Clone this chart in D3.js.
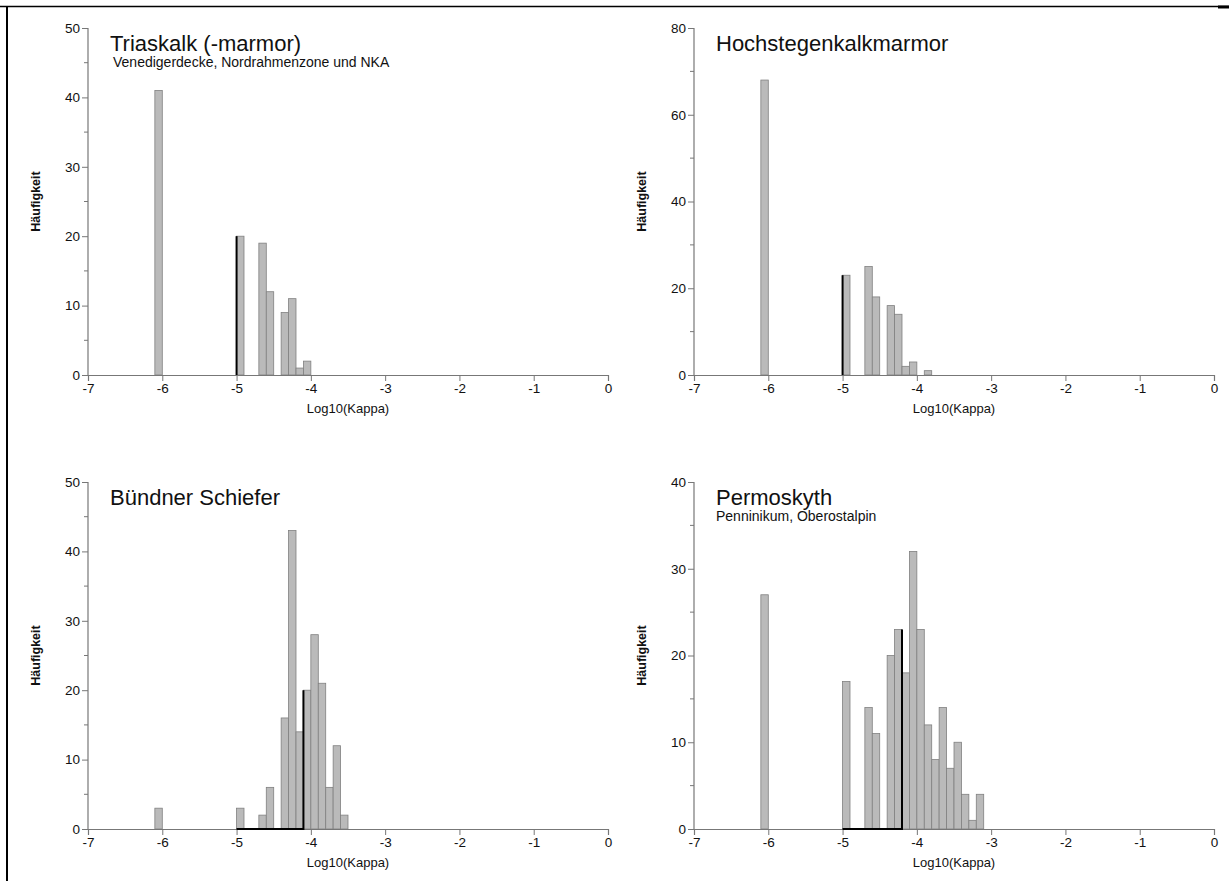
<!DOCTYPE html>
<html><head><meta charset="utf-8">
<script src="https://cdn.jsdelivr.net/npm/d3@7"></script>
<style>
body{margin:0;background:#fff;}
text{font-family:"Liberation Sans",Arial,sans-serif;fill:#111;}
</style></head>
<body><svg id="c" width="1229" height="881"></svg>
<script>
// ---- data ----
const binWidth = 0.1;
const xTicks = [-7,-6,-5,-4,-3,-2,-1,0];

const titles = ["Triaskalk (-marmor)", "Hochstegenkalkmarmor", "Bündner Schiefer", "Permoskyth"];
const subtitles = ["Venedigerdecke, Nordrahmenzone und NKA", "", "", "Penninikum, Oberostalpin"];
const yMax = [50, 80, 50, 40];
const yMajor = [10, 20, 10, 10];

const binStart1 = [-6.1, -5.0, -4.7, -4.6, -4.4, -4.3, -4.2, -4.1];
const counts1   = [41, 20, 19, 12, 9, 11, 1, 2];
const binStart2 = [-6.1, -5.0, -4.7, -4.6, -4.4, -4.3, -4.2, -4.1, -3.9];
const counts2   = [68, 23, 25, 18, 16, 14, 2, 3, 1];
const binStart3 = [-6.1, -5.0, -4.7, -4.6, -4.4, -4.3, -4.2, -4.1, -4.0, -3.9, -3.8, -3.7, -3.6];
const counts3   = [3, 3, 2, 6, 16, 43, 14, 20, 28, 21, 6, 12, 2];
const binStart4 = [-6.1, -5.0, -4.7, -4.6, -4.4, -4.3, -4.2, -4.1, -4.0, -3.9, -3.8, -3.7, -3.6, -3.5, -3.4, -3.3, -3.2];
const counts4   = [27, 17, 14, 11, 20, 23, 18, 32, 23, 12, 8, 14, 7, 10, 4, 1, 4];

// black marker line: from markerFrom to markerTo along baseline, then up to markerH
const markerFrom = [-5.0, -5.0, -5.0, -5.0];
const markerTo   = [-5.0, -5.0, -4.1, -4.2];
const markerH    = [20, 23, 20, 23];

const binStarts = [binStart1, binStart2, binStart3, binStart4];
const countsAll = [counts1, counts2, counts3, counts4];

// ---- layout ----
const svg = d3.select("#c");
const W = 520, H = 347;
const origins = [[88, 375], [694, 375], [88, 829], [694, 829]];
const fmt = d => String(d);

// frame lines
svg.append("line").attr("x1",0).attr("x2",1229).attr("y1",6.5).attr("y2",6.5).attr("stroke","#000").attr("stroke-width",1.5);
svg.append("line").attr("x1",7).attr("x2",7).attr("y1",6).attr("y2",881).attr("stroke","#000").attr("stroke-width",2);
svg.append("line").attr("x1",1218).attr("x2",1229).attr("y1",7).attr("y2",7).attr("stroke","#000").attr("stroke-width",3);

origins.forEach(([ox, oy], i) => {
  const g = svg.append("g").attr("transform", `translate(${ox},${oy - H})`);
  const x = d3.scaleLinear().domain([-7, 0]).range([0, W]);
  const y = d3.scaleLinear().domain([0, yMax[i]]).range([H, 0]);

  // bars
  const data = binStarts[i].map((s, k) => ({s, c: countsAll[i][k]}));
  g.selectAll("rect.bar").data(data).enter().append("rect")
    .attr("x", d => x(d.s))
    .attr("width", d => x(d.s + binWidth) - x(d.s))
    .attr("y", d => y(d.c))
    .attr("height", d => y(0) - y(d.c))
    .attr("fill", "#bababa").attr("stroke", "#808080").attr("stroke-width", 0.8);

  // x axis
  const xa = g.append("g").attr("transform", `translate(0,${H})`)
    .call(d3.axisBottom(x).tickValues(xTicks).tickSize(6).tickPadding(2).tickFormat(fmt));
  xa.select(".domain").attr("stroke", "#777").attr("stroke-width", 1.2);
  xa.selectAll(".tick line").attr("stroke", "#777");
  xa.selectAll("text").attr("font-size", 13.5).attr("fill", "#111").style("font-family", '"Liberation Sans",Arial,sans-serif');

  // y axis major
  const majors = d3.range(0, yMax[i] + 0.001, yMajor[i]);
  const minors = d3.range(yMajor[i] / 2, yMax[i], yMajor[i]);
  const ya = g.append("g")
    .call(d3.axisLeft(y).tickValues(majors).tickSize(6).tickPadding(2).tickFormat(fmt));
  ya.select(".domain").attr("stroke", "#777").attr("stroke-width", 1.2).attr("d", `M0,0V${H}`);
  ya.selectAll(".tick line").attr("stroke", "#777");
  ya.selectAll("text").attr("font-size", 13.5).attr("fill", "#111").style("font-family", '"Liberation Sans",Arial,sans-serif');
  g.selectAll("line.minor").data(minors).enter().append("line")
    .attr("x1", -4).attr("x2", 0).attr("y1", d => y(d)).attr("y2", d => y(d))
    .attr("stroke", "#777");

  // marker line
  const path = d3.path();
  path.moveTo(x(markerFrom[i]), y(0));
  path.lineTo(x(markerTo[i]), y(0));
  path.lineTo(x(markerTo[i]), y(markerH[i]));
  g.append("path").attr("d", path.toString()).attr("fill", "none").attr("stroke", "#000").attr("stroke-width", 2);

  // axis titles
  g.append("text").attr("x", x(-3.5)).attr("y", H + 38).attr("text-anchor", "middle")
    .attr("font-size", 13).text("Log10(Kappa)");
  g.append("text").attr("transform", `translate(-48,${H * 0.5}) rotate(-90)`).attr("text-anchor", "middle")
    .attr("font-size", 12.5).attr("font-weight", "bold").text("Häufigkeit");

  // titles
  g.append("text").attr("x", 22).attr("y", 23).attr("font-size", 22).text(titles[i]);
  if (subtitles[i]) g.append("text").attr("x", i === 0 ? 25 : 22).attr("y", 39).attr("font-size", 14).text(subtitles[i]);
});
</script></body></html>
